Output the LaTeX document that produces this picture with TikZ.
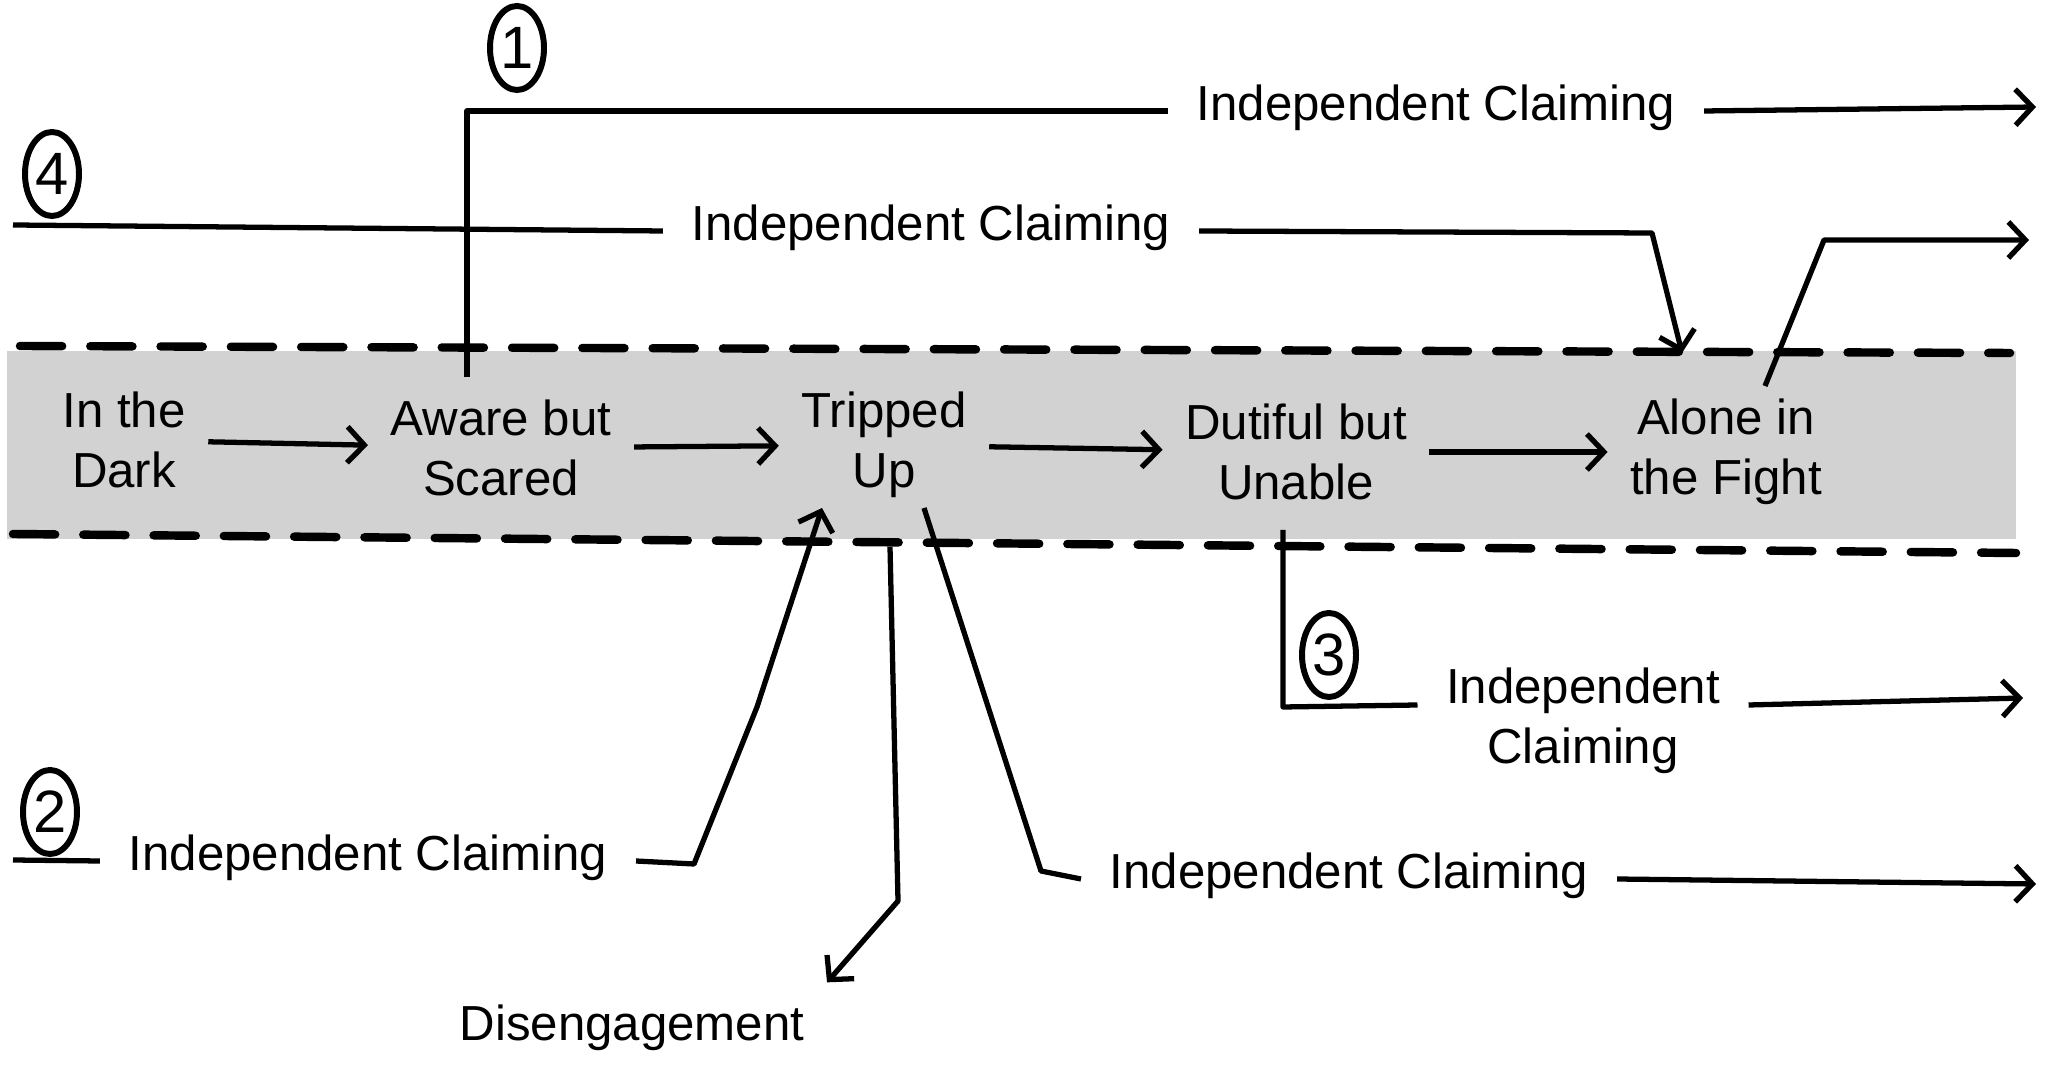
\documentclass[tikz,border=0pt]{standalone}
\usepackage{fontspec}
\setmainfont{Liberation Sans}
\usetikzlibrary{arrows.meta,shapes.geometric}

\tikzset{
  stage/.style={align=center,inner sep=0.22cm,font=\fontsize{14}{17}\selectfont},
  claim/.style={anchor=mid,inner xsep=0.28cm,font=\fontsize{14}{17}\selectfont},
  num/.style={draw,ellipse,line width=1.7pt,inner sep=0pt,minimum width=0.54cm,
              minimum height=0.84cm,font=\fontsize{17}{17}\selectfont},
  link/.style={line width=1.5pt,line join=round},
  flow/.style={link,->},
  rim/.style={line width=2.4pt,dash pattern=on 12pt off 8pt,line cap=round}
}

\begin{document}
\begin{tikzpicture}[>={Straight Barb[length=1.7mm,width=3.6mm]}]
  \useasboundingbox (0,0) rectangle (20.53,10.71);

  % grey band with its dashed edges
  \fill[gray!35] (0.07,5.32) rectangle (20.16,7.20);
  \draw[rim] (0.20,7.25) -- (20.10,7.18);
  \draw[rim] (0.13,5.37) -- (20.16,5.18);

  % the five stages
  \node[stage] (dark)    at (1.24,6.31)  {In the\\Dark};
  \node[stage] (aware)   at (5.01,6.23)  {Aware but\\Scared};
  \node[stage] (tripped) at (8.84,6.26)  {Tripped\\Up};
  \node[stage] (dutiful) at (12.96,6.19) {Dutiful but\\Unable};
  \node[stage] (alone)   at (17.26,6.19) {Alone in\\the Fight};

  \draw[flow] (dark) -- (aware);
  \draw[flow] (aware) -- (tripped);
  \draw[flow] (tripped) -- (dutiful);
  \draw[flow] (dutiful) -- (alone);

  % circled numbers
  \node[num] (one)   at (5.17,10.23) {1};
  \node[num] (four)  at (0.52,8.97)  {4};
  \node[num] (two)   at (0.50,2.59)  {2};
  \node[num] (three) at (13.29,4.16) {3};

  % labels on the side paths
  \node[claim] (claimA) at (14.36,9.60) {Independent Claiming};
  \node[claim] (claimB) at (9.31,8.40)  {Independent Claiming};
  \node[claim] (claimC) at (3.68,2.10)  {Independent Claiming};
  \node[claim,anchor=center,align=center] (claimD) at (15.83,3.50) {Independent\\Claiming};
  \node[claim] (claimE) at (13.49,1.92) {Independent Claiming};
  \node[stage] (diseng) at (6.32,0.43)  {Disengagement};

  \coordinate (startB) at (0.13,8.46);
  \coordinate (startC) at (0.13,2.11);
  \coordinate (endA) at (20.36,9.64);
  \coordinate (endF) at (20.29,8.31);
  \coordinate (endD) at (20.23,3.73);
  \coordinate (endE) at (20.36,1.87);

  % path 1
  \draw[link] ([xshift=-0.34cm]aware.north) |- (claimA.mid west);
  \draw[flow] (claimA.mid east) -- (endA);

  % path 4
  \draw[link] (startB) -- (claimB.mid west);
  \draw[flow] (claimB.mid east) -- (16.52,8.38) -- ([shift={(-0.44,0.99)}]alone.center);
  \draw[flow] ([shift={(0.39,0.66)}]alone.center) -- (18.24,8.31) -- (endF);

  % path 2
  \draw[link] (startC) -- (claimC.mid west);
  \draw[flow] (claimC.mid east) -- (6.94,2.07) -- (7.57,3.64)
              -- ([shift={(-0.62,-0.63)}]tripped.center);

  % out of tripped up
  \draw[flow] ([shift={(0.06,-1.02)}]tripped.center) -- (8.98,1.70) -- (diseng.north east);
  \draw[link] ([shift={(0.40,-0.63)}]tripped.center) -- (10.41,2.00) -- (claimE.mid west);
  \draw[flow] (claimE.mid east) -- (endE);

  % path 3
  \draw[link] ([shift={(-0.13,-0.78)}]dutiful.center) -- (12.83,3.64)
              -- ([yshift=0.16cm]claimD.west);
  \draw[flow] ([yshift=0.16cm]claimD.east) -- (endD);
\end{tikzpicture}
\end{document}
